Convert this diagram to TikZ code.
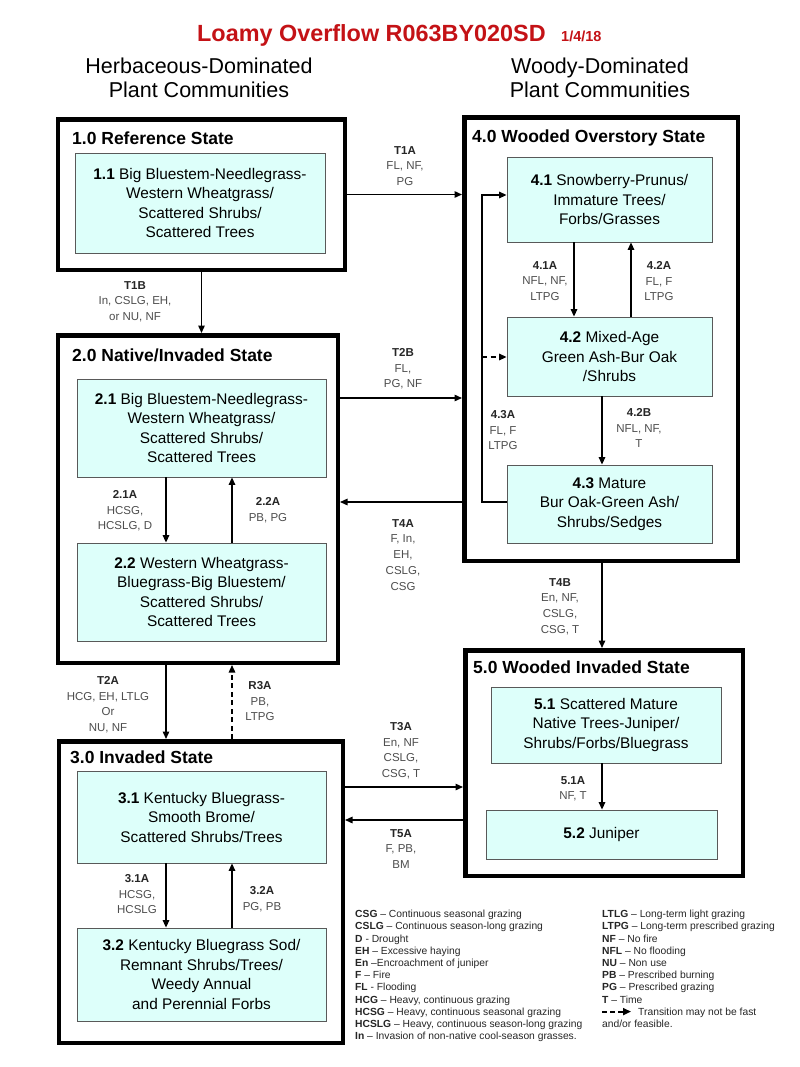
\documentclass[tikz,border=0pt]{standalone}
\usepackage{fontspec}
\setmainfont{Liberation Sans}
\usepackage{xcolor}
\usetikzlibrary{arrows.meta,calc,positioning}
\definecolor{boxfill}{RGB}{221,255,250}
\definecolor{titlered}{RGB}{196,18,22}
\definecolor{labgrey}{RGB}{78,78,78}
\newcommand{\fsz}[2]{\fontsize{#1bp}{#2bp}\selectfont}
\newcommand{\tcode}[1]{\textcolor{black!85}{\textbf{#1}}}
\tikzset{
	state/.style 2 args={draw, line width=4.5bp, inner sep=0pt,
		minimum width=#1bp, minimum height=#2bp},
	community/.style 2 args={draw=black!65, line width=.8bp, fill=boxfill,
		inner sep=0pt, align=center, minimum width=#1bp, minimum height=#2bp,
		font=\fsz{15.4}{19.5}},
	state name/.style={anchor=base west, inner sep=0pt, font=\fsz{17.5}{20}\bfseries},
	trans/.style={anchor=north, inner sep=0pt, align=center, text=labgrey,
		font=\fsz{11.5}{15.8}},
	header/.style={anchor=north, inner sep=0pt, align=center, font=\fsz{21.5}{24}},
	key/.style={anchor=base west, inner sep=0pt, text=black!85, font=\fsz{10.3}{12.2}},
	arr/.style={line width=1.4bp, -{Triangle[length=7.5bp,width=6.5bp]}},
	darr/.style={arr, dash pattern=on 5bp off 3.5bp},
}
\begin{document}
\begin{tikzpicture}[x=1bp, y=-1bp]
   \useasboundingbox[fill=white] (0,0) rectangle (800,1067);
   % title and column headers
   \node[anchor=base west, inner sep=0pt, text=titlered, font=\fsz{23.4}{26}\bfseries] (title) at (197,41) {Loamy Overflow R063BY020SD};
   \node[anchor=base west, inner sep=0pt, text=titlered, font=\fsz{14.5}{16}\bfseries] (date) at (561,41) {1/4/18};
   \node[header] (herb) at (199,58) {Herbaceous-Dominated\\Plant Communities};
   \node[header] (woody) at (600,58) {Woody-Dominated\\Plant Communities};
   % states
   \node[state={286.5}{150.5}] (s1) at (201.5,194.5) {};
   \node[state={279.5}{327.5}] (s2) at (198,499) {};
   \node[state={283.5}{301.5}] (s3) at (201,892) {};
   \node[state={273.5}{443.5}] (s4) at (601,339) {};
   \node[state={277.5}{225.5}] (s5) at (604,763) {};
   \node[state name] (s1name) at (72,144) {1.0 Reference State};
   \node[state name] (s2name) at (72,361) {2.0 Native/Invaded State};
   \node[state name] (s3name) at (70,763) {3.0 Invaded State};
   \node[state name] (s4name) at (472,142) {4.0 Wooded Overstory State};
   \node[state name] (s5name) at (473,673) {5.0 Wooded Invaded State};
   % plant communities
   \node[community={250}{100}] (b11) at (200,203) {\textbf{1.1} Big Bluestem-Needlegrass-\\Western Wheatgrass/\\Scattered Shrubs/\\Scattered Trees};
   \node[community={249}{98}] (b21) at (201.5,428) {\textbf{2.1} Big Bluestem-Needlegrass-\\Western Wheatgrass/\\Scattered Shrubs/\\Scattered Trees};
   \node[community={249}{98}] (b22) at (201.5,592) {\textbf{2.2} Western Wheatgrass-\\Bluegrass-Big Bluestem/\\Scattered Shrubs/\\Scattered Trees};
   \node[community={249}{92}] (b31) at (201.5,817) {\textbf{3.1} Kentucky Bluegrass-\\Smooth Brome/\\Scattered Shrubs/Trees};
   \node[community={249}{93}] (b32) at (201.5,974.5) {\textbf{3.2} Kentucky Bluegrass Sod/\\Remnant Shrubs/Trees/\\Weedy Annual\\and Perennial Forbs};
   \node[community={205}{85}] (b41) at (609.5,199.5) {\textbf{4.1} Snowberry-Prunus/\\Immature Trees/\\Forbs/Grasses};
   \node[community={205}{79}] (b42) at (609.5,356.5) {\textbf{4.2} Mixed-Age\\Green Ash-Bur Oak\\/Shrubs};
   \node[community={205}{78}] (b43) at (609.5,504) {\textbf{4.3} Mature\\Bur Oak-Green Ash/\\Shrubs/Sedges};
   \node[community={230}{76}] (b51) at (606,725) {\textbf{5.1} Scattered Mature\\Native Trees-Juniper/\\Shrubs/Forbs/Bluegrass};
   \node[community={231}{49}] (b52) at (601.5,834.5) {\textbf{5.2} Juniper};
   % transitions between states
   \draw[arr] (s1.east) -- (s1.east -| s4.west);
   \draw[arr] (s1.south) -- (s1.south |- s2.north);
   \draw[arr] (s2.east |- 0,398) -- (s4.west |- 0,398);
   \draw[arr] (s4.west |- 0,502) -- (s2.east |- 0,502);
   \draw[arr] (s2.south -| 166,0) -- (s3.north -| 166,0);
   \draw[darr] (s3.north -| 232,0) -- (s2.south -| 232,0);
   \draw[arr] (s3.east |- 0,787) -- (s5.west |- 0,787);
   \draw[arr] (s5.west |- 0,820) -- (s3.east |- 0,820);
   \draw[arr] (s4.south -| 602,0) -- (s5.north -| 602,0);
   % pathways inside states
   \draw[arr] (b21.south -| 166,0) -- (b22.north -| 166,0);
   \draw[arr] (b22.north -| 232,0) -- (b21.south -| 232,0);
   \draw[arr] (b31.south -| 166,0) -- (b32.north -| 166,0);
   \draw[arr] (b32.north -| 232,0) -- (b31.south -| 232,0);
   \draw[arr] (b41.south -| 574,0) -- (b42.north -| 574,0);
   \draw[arr] (b42.north -| 631,0) -- (b41.south -| 631,0);
   \draw[arr] (b42.south -| 602,0) -- (b43.north -| 602,0);
   \draw[arr] (b51.south -| 602,0) -- (b52.north -| 602,0);
   \coordinate (loop) at (482,195);
   \coordinate (loopdash) at (482,357);
   \draw[arr] (b43.west |- 0,502) -| (loop) -- (loop -| b41.west);
   \draw[darr] (loopdash) -- (loopdash -| b42.west);
   % transition labels
   \node[trans] (lt1a) at (405,146) {\tcode{T1A}\\FL, NF,\\PG};
   \node[trans] (lt1b) at (135,281) {\tcode{T1B}\\In, CSLG, EH,\\or NU, NF};
   \node[trans] (lt2b) at (403,348) {\tcode{T2B}\\FL,\\PG, NF};
   \node[trans] (lt4a) at (403,519) {\tcode{T4A}\\F, In,\\EH,\\CSLG,\\CSG};
   \node[trans] (l21a) at (125,490) {\tcode{2.1A}\\HCSG,\\HCSLG, D};
   \node[trans] (l22a) at (268,497) {\tcode{2.2A}\\PB, PG};
   \node[trans] (lt2a) at (108,676) {\tcode{T2A}\\HCG, EH, LTLG\\Or\\NU, NF};
   \node[trans] (lr3a) at (260,681) {\tcode{R3A}\\PB,\\LTPG};
   \node[trans] (l31a) at (137,874) {\tcode{3.1A}\\HCSG,\\HCSLG};
   \node[trans] (l32a) at (262,886) {\tcode{3.2A}\\PG, PB};
   \node[trans] (lt3a) at (401,722) {\tcode{T3A}\\En, NF\\CSLG,\\CSG, T};
   \node[trans] (lt5a) at (401,829) {\tcode{T5A}\\F, PB,\\BM};
   \node[trans] (l41a) at (545,261) {\tcode{4.1A}\\NFL, NF,\\LTPG};
   \node[trans] (l42a) at (659,261) {\tcode{4.2A}\\FL, F\\LTPG};
   \node[trans] (l42b) at (639,408) {\tcode{4.2B}\\NFL, NF,\\T};
   \node[trans] (l43a) at (503,410) {\tcode{4.3A}\\FL, F\\LTPG};
   \node[trans] (lt4b) at (560,578) {\tcode{T4B}\\En, NF,\\CSLG,\\CSG, T};
   \node[trans] (l51a) at (573,776) {\tcode{5.1A}\\NF, T};
   % legend
   \foreach \txt [count=\i from 0] in {{\textbf{CSG} -- Continuous seasonal grazing},
         {\textbf{CSLG} -- Continuous season-long grazing}, {\textbf{D} - Drought},
         {\textbf{EH} -- Excessive haying}, {\textbf{En} --Encroachment of juniper},
         {\textbf{F} -- Fire}, {\textbf{FL} - Flooding}, {\textbf{HCG} -- Heavy, continuous grazing},
         {\textbf{HCSG} -- Heavy, continuous seasonal grazing},
         {\textbf{HCSLG} -- Heavy, continuous season-long grazing},
         {\textbf{In} -- Invasion of non-native cool-season grasses.}}
      \node[key] (keyl\i) at (355,{917.7+12.2*\i}) {\txt};
   \foreach \txt [count=\i from 0] in {{\textbf{LTLG} -- Long-term light grazing},
         {\textbf{LTPG} -- Long-term prescribed grazing}, {\textbf{NF} -- No fire},
         {\textbf{NFL} -- No flooding}, {\textbf{NU} -- Non use}, {\textbf{PB} -- Prescribed burning},
         {\textbf{PG} -- Prescribed grazing}, {\textbf{T} -- Time}}
      \node[key] (keyr\i) at (602,{917.7+12.2*\i}) {\txt};
   \coordinate (keyarr) at (602,1011.6);
   \coordinate (keyarrend) at (631,1011.6);
   \node[key] (keydash) at (638,1015.3) {Transition may not be fast};
   \node[key] (keydash2) at (602,1027.5) {and/or feasible.};
   \draw[line width=1.8bp, dash pattern=on 5bp off 3bp, -{Triangle[length=8bp,width=7bp]}] (keyarr) -- (keyarrend);
\end{tikzpicture}
\end{document}
